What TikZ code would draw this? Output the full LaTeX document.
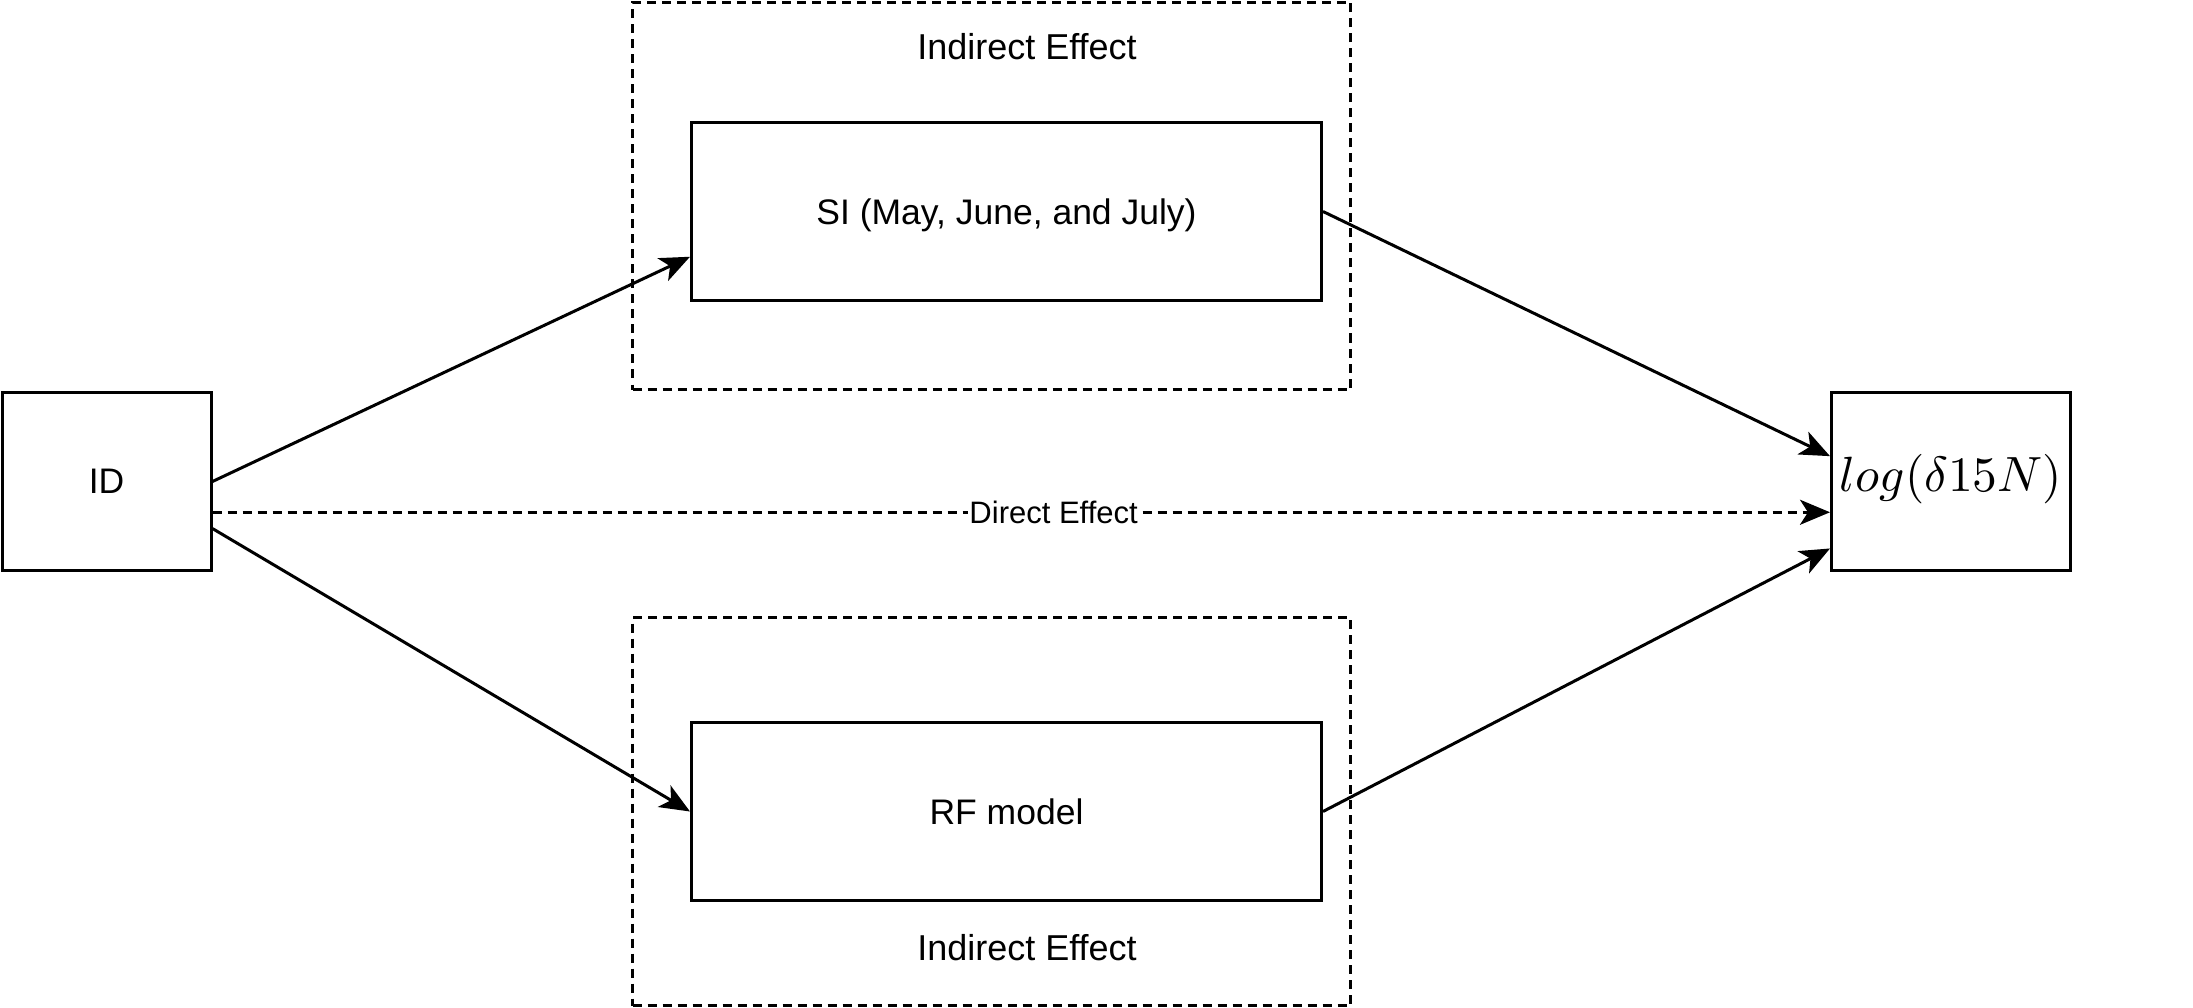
\documentclass[tikz,border=0pt]{standalone}
\usepackage{fontspec}
\setmainfont{Liberation Sans}
\usetikzlibrary{arrows.meta,calc}
\begin{document}
\begin{tikzpicture}[x=1pt,y=-1pt,
  box/.style={draw,line width=3pt,inner sep=0pt,minimum height=178pt,text depth=0pt,font=\fontsize{35.5}{42}\selectfont},
  group/.style={draw,line width=2.5pt,dash pattern=on 9pt off 6pt,inner sep=0pt},
  lbl/.style={font=\fontsize{36}{42}\selectfont},
  conn/.style={line width=3pt,-{Stealth[length=30pt,width=25pt,inset=8pt]}},
  direct/.style={conn,dash pattern=on 9pt off 6pt}]
\useasboundingbox (0,0) rectangle (2193,1008);
% dashed groups
\node[group,minimum width=718pt,minimum height=387pt] (gtop) at (991.5,196) {};
\node[group,minimum width=718pt,minimum height=388pt] (gbot) at (991.5,811.5) {};
\node[lbl] (ltop) at (1027,47) {Indirect Effect};
\node[lbl] (lbot) at (1027,948) {Indirect Effect};
% boxes
\node[box,minimum width=209pt] (id) at (106.5,481.5) {ID};
\node[box,minimum width=630pt] (si) at (1006.5,211.5) {SI (May, June, and July)};
\node[box,minimum width=630pt] (rf) at (1006.5,811.5) {RF model};
\node[draw,line width=3pt,inner sep=0pt,minimum height=178pt,minimum width=239pt] (log) at (1951,481.5) {};
\node (logtxt) at ([yshift=2pt]log.center) {\scalebox{4.95}{$log(\delta 15N)$}};
% connectors
\draw[conn] (id.east) -- ($(si.north west)!0.75!(si.south west)$);
\draw[conn] (si.east) -- ($(log.north west)!0.36!(log.south west)$);
\draw[conn] ($(id.north east)!0.76!(id.south east)$) -- (rf.west);
\draw[conn] (rf.east) -- ($(log.north west)!0.87!(log.south west)$);
\draw[direct] ($(id.north east)!0.67!(id.south east)$) -- node[pos=0.52,fill=white,inner sep=1pt,font=\fontsize{31}{36}\selectfont] (dlbl) {Direct Effect} ($(log.north west)!0.67!(log.south west)$);
\end{tikzpicture}
\end{document}
